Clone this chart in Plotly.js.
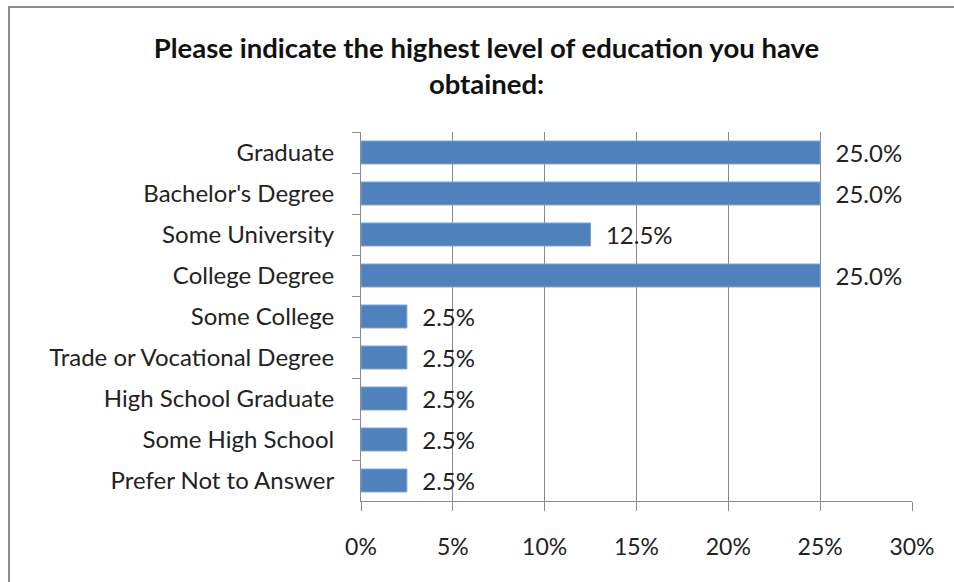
<!DOCTYPE html>
<html>
<head>
<meta charset="utf-8">
<script src="https://cdn.plot.ly/plotly-3.0.1.min.js"></script>
<style>
  html, body { margin: 0; padding: 0; background: #fff; overflow: hidden; }
  #wrap { position: relative; width: 954px; height: 582px; }
  #chart { width: 954px; height: 582px; }
  #frame { position: absolute; left: 8px; top: 6px; width: 1000px; height: 700px;
           border: 2px solid #8c8c8c; pointer-events: none; box-sizing: border-box; }
</style>
</head>
<body>
<div id="wrap">
  <div id="chart"></div>
  <div id="frame"></div>
</div>
<script>
const categories = [
  "Graduate",
  "Bachelor's Degree",
  "Some University",
  "College Degree",
  "Some College",
  "Trade or Vocational Degree",
  "High School Graduate",
  "Some High School",
  "Prefer Not to Answer"
];
const shares = [0.25, 0.25, 0.125, 0.25, 0.025, 0.025, 0.025, 0.025, 0.025];
const xTickVals = [0, 0.05, 0.10, 0.15, 0.20, 0.25, 0.30];
const xTickText = ["0%", "5%", "10%", "15%", "20%", "25%", "30%"];
const titleText = "Please indicate the highest level of education you have<br>obtained:";

const FONT = "Lato, 'Open Sans', sans-serif";

const trace = {
  type: "bar",
  orientation: "h",
  y: categories,
  x: shares,
  marker: { color: "#4F81BD", line: { color: "#7FA3D0", width: 1 } },
  texttemplate: "  %{x:.1%}",
  textposition: "outside",
  constraintext: "none",
  cliponaxis: false,
  textfont: { family: FONT, size: 24, color: "#222" },
  hoverinfo: "none"
};

const layout = {
  width: 954, height: 582,
  margin: { l: 361, r: 42, t: 132, b: 81 },
  paper_bgcolor: "#fff", plot_bgcolor: "#fff",
  showlegend: false,
  bargap: 0.44,
  title: {
    text: titleText,
    font: { family: FONT, size: 27.5, color: "#111", weight: "bold" },
    x: 0.51, xanchor: "center", y: 0.9, yanchor: "middle"
  },
  xaxis: {
    range: [0, 0.3],
    tickvals: xTickVals,
    ticktext: xTickText,
    showgrid: true, gridcolor: "#8a8a8a", gridwidth: 1,
    showline: true, linecolor: "#8a8a8a", linewidth: 1,
    ticks: "outside", ticklen: 9, tickcolor: "#8a8a8a",
    ticklabelstandoff: 16,
    zeroline: false,
    tickfont: { family: FONT, size: 23, color: "#222" },
    fixedrange: true
  },
  yaxis: {
    type: "category",
    autorange: "reversed",
    showgrid: false,
    showline: true, linecolor: "#8a8a8a", linewidth: 1,
    ticks: "outside", ticklen: 8, tickcolor: "#8a8a8a",
    tickson: "boundaries",
    ticklabelstandoff: 21,
    tickfont: { family: FONT, size: 24, color: "#222" },
    fixedrange: true
  }
};

Plotly.newPlot("chart", [trace], layout, { displayModeBar: false, staticPlot: true });
</script>
</body>
</html>
